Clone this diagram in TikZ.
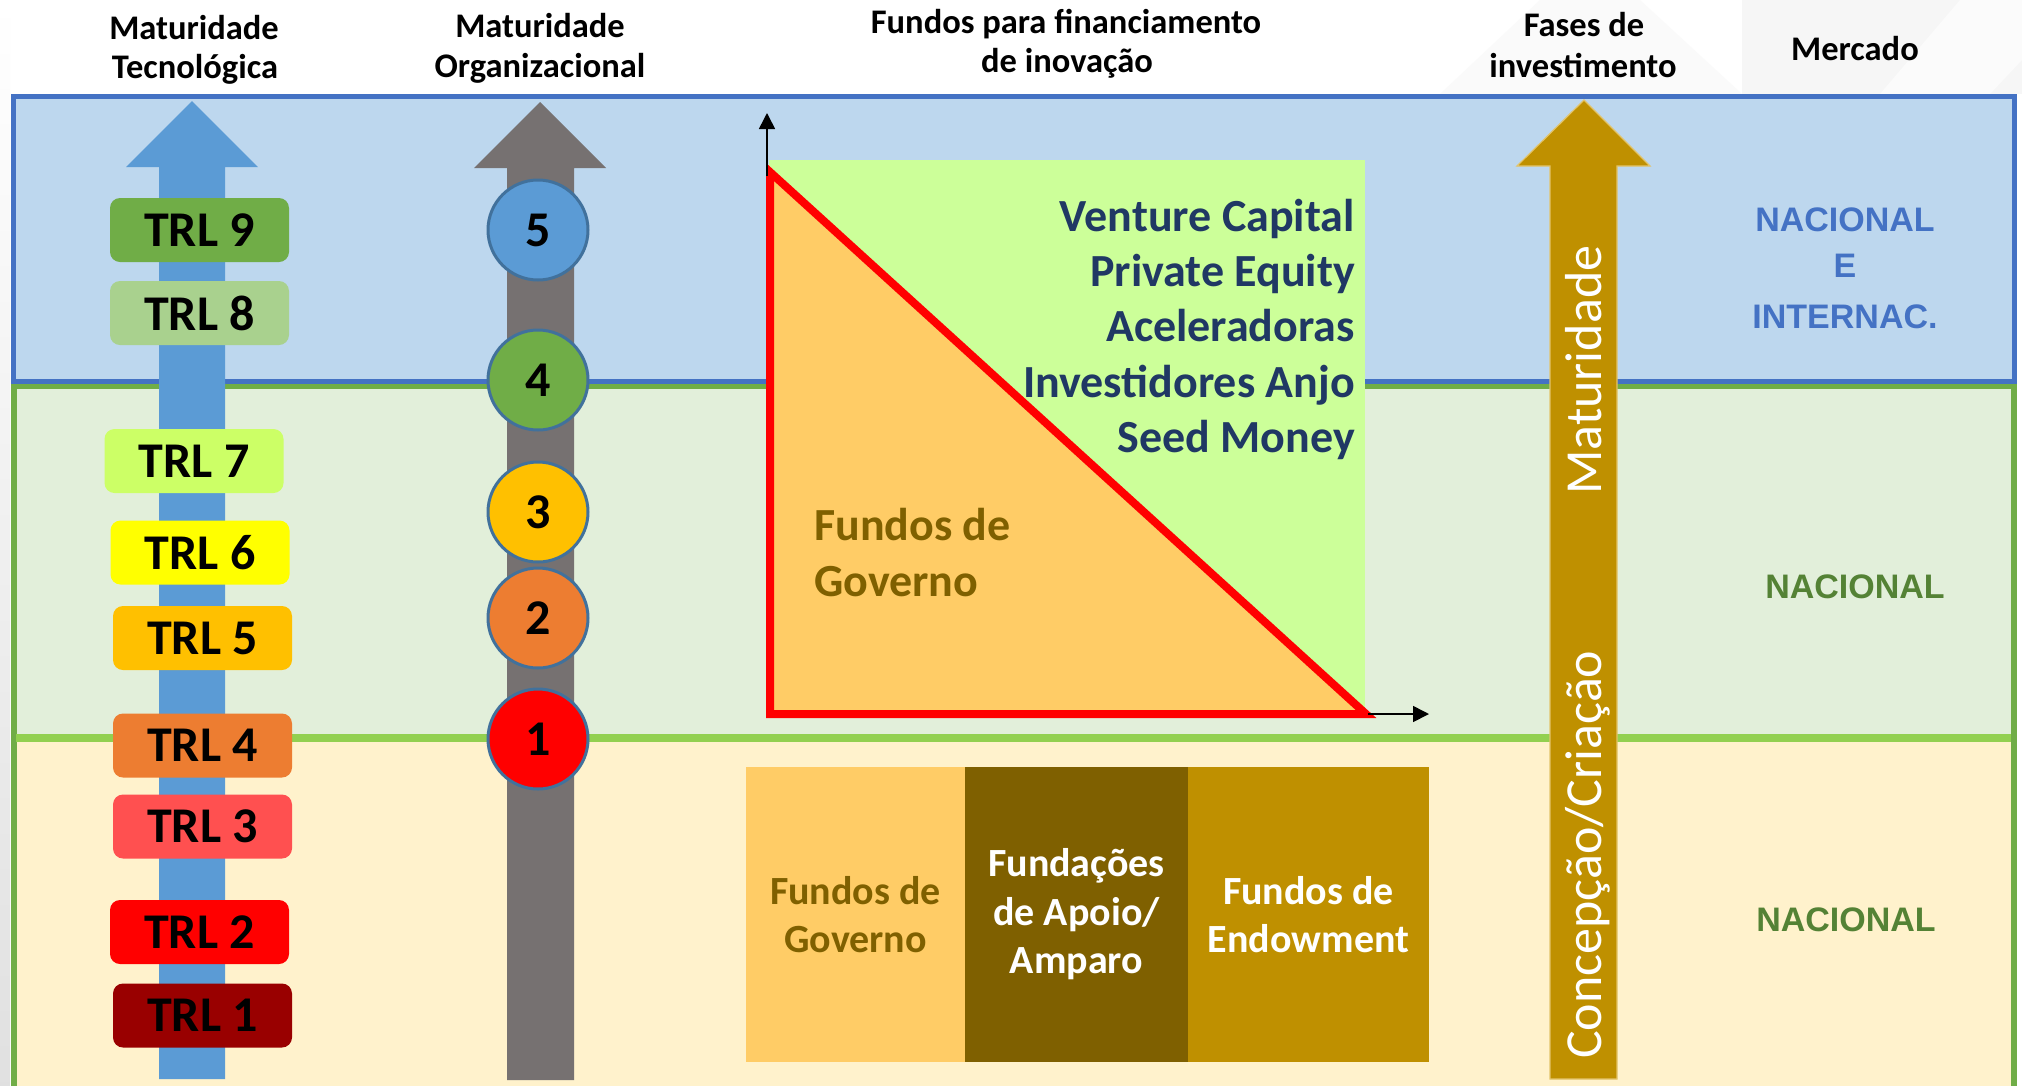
\documentclass[tikz,border=0pt]{standalone}
\usepackage{fontspec}
\setmainfont{Carlito}
\newfontfamily\mercfont{Liberation Sans}
\usetikzlibrary{arrows.meta}

\definecolor{bandblue}{HTML}{BDD7EE}
\definecolor{bandgreen}{HTML}{E2EFDA}
\definecolor{bandyellow}{HTML}{FFF2CC}
\definecolor{frameblue}{HTML}{4472C4}
\definecolor{framegreen}{HTML}{70AD47}
\definecolor{linegreen}{HTML}{92D050}
\definecolor{arrblue}{HTML}{5B9BD5}
\definecolor{arrgrey}{HTML}{767171}
\definecolor{arrgold}{HTML}{BF9000}
\definecolor{arrgoldedge}{HTML}{E3C46A}
\definecolor{trlnine}{HTML}{70AD47}
\definecolor{trleight}{HTML}{A9D18E}
\definecolor{trlseven}{HTML}{CCFF66}
\definecolor{trlsix}{HTML}{FFFF00}
\definecolor{trlfive}{HTML}{FFC000}
\definecolor{trlfour}{HTML}{ED7D31}
\definecolor{trlthree}{HTML}{FF5050}
\definecolor{trltwo}{HTML}{FF0000}
\definecolor{trlone}{HTML}{990000}
\definecolor{circborder}{HTML}{41719C}
\definecolor{lightgreenfill}{HTML}{CCFF99}
\definecolor{peach}{HTML}{FFCC66}
\definecolor{olivebrown}{HTML}{7F6000}
\definecolor{navytext}{HTML}{203864}
\definecolor{mercgreen}{HTML}{548235}
\definecolor{pureRed}{HTML}{FF0000}

\tikzset{
  trlbox/.style={rounded corners=10pt, minimum width=179pt, minimum height=64pt,
    inner sep=0pt, font=\fontsize{50}{60}\selectfont\bfseries, text=black},
  lvl/.style={circle, draw=circborder, line width=3pt, minimum size=100pt,
    inner sep=0pt, font=\fontsize{50}{60}\selectfont\bfseries, text=black},
  hdr/.style={font=\fontsize{34.5}{40}\selectfont\bfseries, anchor=base, inner sep=0pt, text=black},
  fundtxt/.style={font=\fontsize{46}{56}\selectfont\bfseries, text=navytext, anchor=base east, inner sep=0pt},
  govtxt/.style={font=\fontsize{46}{56}\selectfont\bfseries, text=olivebrown, anchor=base west, inner sep=0pt},
  fundbox/.style={inner sep=0pt, align=center, minimum height=295pt,
    font=\fontsize{40}{48.5}\selectfont\bfseries},
  rottxt/.style={rotate=90, anchor=base west, inner sep=0pt, text=white,
    font=\fontsize{52}{60}\selectfont},
  merc/.style={inner sep=0pt, font=\mercfont\fontsize{34}{40}\selectfont\bfseries},
  axisline/.style={line width=1.6pt, -{Triangle[length=16pt,width=16pt]}},
  bigarrow/.style={line join=miter}
}

\begin{document}
\begin{tikzpicture}[x=1pt,y=-1pt]
\useasboundingbox (0,0) rectangle (2022,1085);
\fill[white] (0,0) rectangle (2022,1085);

% faint watermark top right
\fill[black!3.5] (1742,0) -- (2022,0) -- (2022,94) -- (1742,94) -- cycle;
\fill[black!2] (1440,94) -- (1540,0) -- (1640,0) -- (1742,94) -- cycle;
\fill[black!1.5] (1880,94) -- (1960,0) -- (2022,0) -- (2022,60) -- (1990,94) -- cycle;

% left grey strip
\shade[top color=white, bottom color=black!12] (0,0) rectangle (10,1085);

% bands
\fill[bandyellow] (13,738) rectangle (2014,1095);
\fill[bandgreen] (13,386) rectangle (2014,738);
\fill[bandblue] (13,96) rectangle (2014,382);
\draw[framegreen, line width=6pt] (13.5,1095) -- (13.5,386) -- (2013.5,386) -- (2013.5,1095);
\draw[frameblue, line width=5pt] (13,96) rectangle (2014,381);
\draw[linegreen, line width=8pt] (16,738) -- (2011,738);

% big arrows
\fill[arrblue, bigarrow] (159,1079) -- (159,167) -- (126,167) -- (192,101) -- (258,167) -- (225,167) -- (225,1079) -- cycle;
\fill[arrgrey, bigarrow] (507,1080) -- (507,168) -- (474,168) -- (540,102) -- (606,168) -- (574,168) -- (574,1080) -- cycle;
\filldraw[fill=arrgold, draw=arrgoldedge, line width=1.2pt, bigarrow] (1550,1079) -- (1550,166) -- (1517,166) -- (1584,100) -- (1650,166) -- (1617,166) -- (1617,1079) -- cycle;

% TRL boxes
\node[trlbox, fill=trlnine]  (trl9) at (199.5,230)   {TRL 9};
\node[trlbox, fill=trleight] (trl8) at (199.5,313)   {TRL 8};
\node[trlbox, fill=trlseven] (trl7) at (194,461)     {TRL 7};
\node[trlbox, fill=trlsix]   (trl6) at (200,552.5)   {TRL 6};
\node[trlbox, fill=trlfive]  (trl5) at (202.5,638)   {TRL 5};
\node[trlbox, fill=trlfour]  (trl4) at (202.5,745.5) {TRL 4};
\node[trlbox, fill=trlthree] (trl3) at (202.5,826.5) {TRL 3};
\node[trlbox, fill=trltwo]   (trl2) at (199.5,932)   {TRL 2};
\node[trlbox, fill=trlone]   (trl1) at (202.5,1015.5){TRL 1};

% organisational maturity circles
\node[lvl, fill=arrblue]  (lv5) at (538,230) {5};
\node[lvl, fill=trlnine]  (lv4) at (538,380) {4};
\node[lvl, fill=trlfive]  (lv3) at (538,512) {3};
\node[lvl, fill=trlfour]  (lv2) at (538,618) {2};
\node[lvl, fill=trltwo]   (lv1) at (538,739) {1};

% funding chart
\fill[lightgreenfill] (769,160) rectangle (1365,714);
\filldraw[fill=peach, draw=pureRed, line width=8pt, line join=miter] (770,172) -- (770,714) -- (1366,714) -- cycle;
\coordinate (yfoot) at (767,176);
\coordinate (ytip) at (767,113);
\coordinate (xfoot) at (1368,714);
\coordinate (xtip) at (1429,714);
\draw[axisline] (yfoot) -- (ytip);
\draw[axisline] (xfoot) -- (xtip);

\node[fundtxt] (vc)   at (1355,231) {Venture Capital};
\node[fundtxt] (pe)   at (1355,286) {Private Equity};
\node[fundtxt] (acel) at (1355,341) {Aceleradoras};
\node[fundtxt] (anjo) at (1355,397) {Investidores Anjo};
\node[fundtxt] (seed) at (1355,452) {Seed Money};
\node[govtxt] (gova) at (814,540) {Fundos de};
\node[govtxt] (govb) at (814,596) {Governo};

% bottom boxes
\node[fundbox, fill=peach, text=olivebrown, minimum width=219pt] (bgov) at (855.5,914.5) {Fundos de\\Governo};
\node[fundbox, fill=olivebrown, text=white, minimum width=223pt] (bfund) at (1076.5,914.5) {Fundações\\de Apoio/\\Amparo};
\node[fundbox, fill=arrgold, text=white, minimum width=241pt] (bendow) at (1308.5,914.5) {Fundos de\\Endowment};

% texts on the investment arrow
\node[rottxt] (matur) at (1601,495) {Maturidade};
\node[rottxt] (conc) at (1601,1059) {Concepção/Criação};

% market column
\node[merc, text=frameblue] (mk1a) at (1845,220) {NACIONAL};
\node[merc, text=frameblue] (mk1b) at (1845,266) {E};
\node[merc, text=frameblue] (mk1c) at (1845,317) {INTERNAC.};
\node[merc, text=mercgreen] (mk2) at (1855,587) {NACIONAL};
\node[merc, text=mercgreen] (mk3) at (1846,920) {NACIONAL};

% headers
\node[hdr] (h1a) at (194,39) {Maturidade};
\node[hdr] (h1b) at (195,78) {Tecnológica};
\node[hdr] (h2a) at (540,37.5) {Maturidade};
\node[hdr] (h2b) at (540,77) {Organizacional};
\node[hdr] (h3a) at (1066,33.5) {Fundos para financiamento};
\node[hdr] (h3b) at (1067,72) {de inovação};
\node[hdr] (h4a) at (1584,36.7) {Fases de};
\node[hdr] (h4b) at (1583,77) {investimento};
\node[hdr] (h5) at (1855,60) {Mercado};
\end{tikzpicture}
\end{document}
